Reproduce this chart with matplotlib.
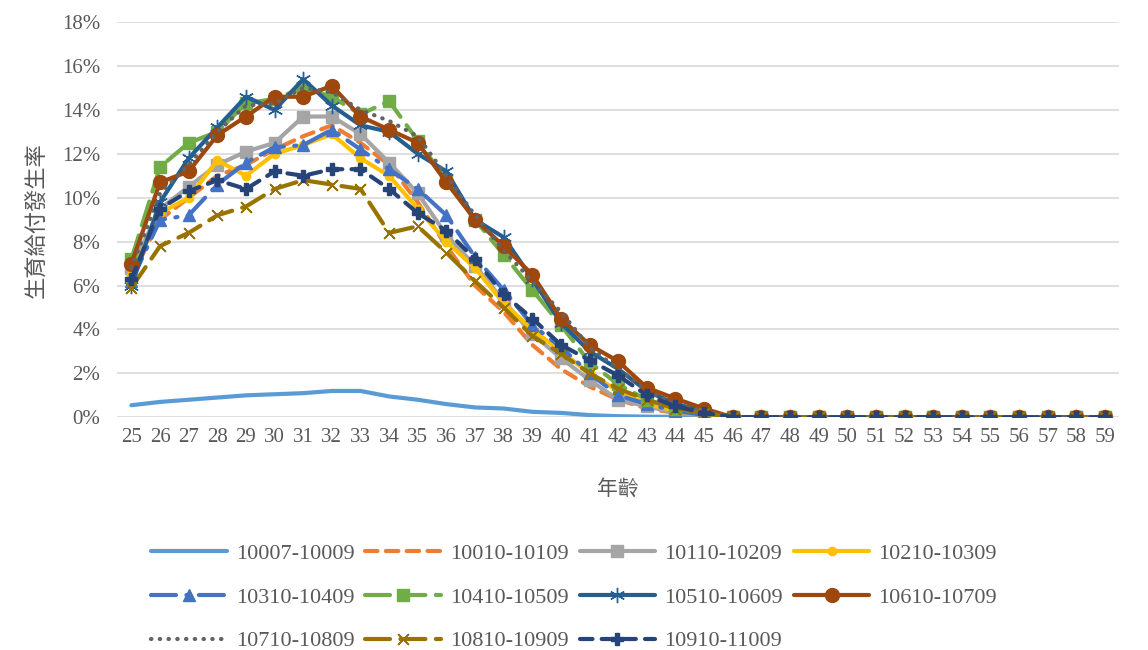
import numpy as np
import matplotlib
matplotlib.use("Agg")
import matplotlib.pyplot as plt
from matplotlib.ticker import PercentFormatter

plt.rcParams['font.family'] = ['Liberation Serif', 'Noto Sans CJK TC']

ages = list(range(25, 60))
tail = 14  # ages 46..59

labels = ["10007-10009", "10010-10109", "10110-10209", "10210-10309",
          "10310-10409", "10410-10509", "10510-10609", "10610-10709",
          "10710-10809", "10810-10909", "10910-11009"]

# rates in %, ages 25..45, then near zero
s10007 = [0.55, 0.7, 0.8, 0.9, 1.0, 1.05, 1.1, 1.2, 1.2, 0.95, 0.8, 0.6, 0.45, 0.4, 0.25, 0.2, 0.1, 0.05, 0.03, 0.02, 0.01] + [0.0] * tail
s10010 = [6.4, 9.0, 10.0, 11.0, 11.5, 12.2, 12.8, 13.3, 12.5, 11.5, 9.8, 7.8, 6.0, 4.8, 3.3, 2.2, 1.4, 0.8, 0.4, 0.2, 0.1] + [0.0] * tail
s10110 = [6.8, 9.5, 10.5, 11.5, 12.1, 12.5, 13.7, 13.7, 12.9, 11.6, 10.2, 8.3, 6.9, 5.3, 3.8, 2.7, 1.7, 0.8, 0.5, 0.2, 0.1] + [0.0] * tail
s10210 = [6.5, 9.3, 10.0, 11.7, 11.0, 12.0, 12.4, 12.9, 11.8, 11.0, 9.5, 8.0, 6.8, 5.2, 4.0, 3.0, 2.0, 1.2, 0.6, 0.3, 0.1] + [0.0] * tail
s10310 = [6.2, 9.0, 9.2, 10.6, 11.6, 12.3, 12.4, 13.1, 12.2, 11.3, 10.4, 9.2, 7.3, 5.8, 4.2, 3.2, 2.0, 1.0, 0.6, 0.3, 0.1] + [0.0] * tail
s10410 = [7.2, 11.4, 12.5, 13.0, 14.3, 14.5, 15.0, 14.6, 13.8, 14.4, 12.6, 10.8, 9.0, 7.4, 5.8, 4.2, 2.5, 1.5, 0.8, 0.4, 0.2] + [0.0] * tail
s10510 = [6.0, 9.8, 11.8, 13.2, 14.6, 14.0, 15.4, 14.2, 13.3, 13.0, 12.0, 11.2, 9.0, 8.2, 6.3, 4.3, 3.0, 2.2, 1.2, 0.6, 0.3] + [0.0] * tail
s10610 = [7.0, 10.7, 11.2, 12.85, 13.7, 14.6, 14.6, 15.1, 13.7, 13.1, 12.5, 10.7, 9.0, 7.8, 6.5, 4.5, 3.3, 2.55, 1.35, 0.85, 0.4] + [0.0] * tail
s10710 = [6.8, 10.2, 11.5, 13.0, 14.2, 14.3, 15.0, 14.8, 14.0, 13.5, 12.8, 11.0, 9.2, 7.6, 6.2, 4.8, 3.2, 2.2, 1.2, 0.6, 0.3] + [0.0] * tail
s10810 = [5.9, 7.8, 8.4, 9.2, 9.6, 10.4, 10.8, 10.6, 10.4, 8.4, 8.7, 7.5, 6.2, 5.0, 3.7, 2.9, 2.0, 1.3, 0.8, 0.4, 0.2] + [0.0] * tail
s10910 = [6.3, 9.5, 10.3, 10.8, 10.4, 11.2, 11.0, 11.3, 11.3, 10.4, 9.3, 8.5, 7.2, 5.6, 4.5, 3.3, 2.6, 1.9, 1.0, 0.5, 0.2] + [0.0] * tail

series = [s10007, s10010, s10110, s10210, s10310, s10410,
          s10510, s10610, s10710, s10810, s10910]

colors = ["#5B9BD5", "#ED7D31", "#A5A5A5", "#FFC000", "#4472C4", "#70AD47",
          "#255E91", "#9E480E", "#636363", "#997300", "#264478"]
markers = [None, None, "s", "o", "^", "s", (6, 2, 0), "o", None, (4, 2, 45), "P"]
msizes = [0, 0, 9, 6, 9, 9, 11, 10, 0, 11, 9]
dashes = [None, (3, 2), None, None, (6, 2.5, 0.5, 2.5), (6, 2.5), None, None,
          (0.1, 2.0), (6, 2.5), (3, 2.2)]

fig, ax = plt.subplots(figsize=(11.48, 6.5), dpi=100)
fig.subplots_adjust(left=0.102, right=0.975, top=0.966, bottom=0.358)

handles = []
for s, lab, c, m, ms, d in zip(series, labels, colors, markers, msizes, dashes):
    line, = ax.plot(ages, s, color=c, lw=3, marker=m, markersize=ms,
                    markeredgecolor=c, markerfacecolor=c,
                    solid_capstyle="round", dash_capstyle="round", label=lab)
    if d is not None:
        line.set_dashes(d)
    handles.append(line)

ax.set_xlim(24.5, 59.5)
ax.set_ylim(0, 18)
ax.set_yticks(np.arange(0, 19, 2))
ax.yaxis.set_major_formatter(PercentFormatter(decimals=0))
ax.set_xticks(ages)
ax.grid(axis="y", color="#D9D9D9", lw=1.2)
ax.set_axisbelow(True)
for sp in ax.spines.values():
    sp.set_visible(False)
ax.tick_params(length=0, labelsize=15, colors="#595959", pad=8)
ax.tick_params(axis="y", pad=12)

ax.set_xlabel("年齡", fontsize=15, color="#595959", labelpad=24)
ax.set_ylabel("生育給付發生率", fontsize=16, color="#595959", labelpad=10)

order = [0, 4, 8, 1, 5, 9, 2, 6, 10, 3, 7]
fig.legend([handles[i] for i in order], [labels[i] for i in order],
           loc="lower center", bbox_to_anchor=(0.50, -0.033), ncol=4, frameon=False,
           fontsize=16, handlelength=3.4, columnspacing=0.5, handletextpad=0.4,
           labelspacing=1.05, labelcolor="#595959")

plt.savefig("out.png", dpi=100)
